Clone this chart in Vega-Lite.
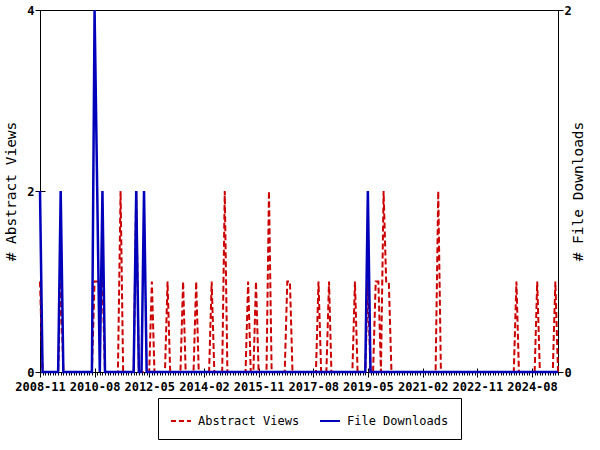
{
  "$schema": "https://vega.github.io/schema/vega-lite/v6.json",
  "width": 518,
  "height": 362,
  "autosize": {"type": "none"},
  "padding": {"left": 40, "top": 10, "right": 42, "bottom": 78},
  "config": {
    "font": "DejaVu Sans Mono",
    "view": {"stroke": "black", "strokeWidth": 1},
    "axis": {"labelColor": "black", "tickColor": "black", "domainColor": "black", "titleColor": "black", "grid": false, "labelFontWeight": "bold", "labelFontSize": 12, "titleFontWeight": "normal", "titleFontSize": 14.5, "labelFont": "DejaVu Sans Mono", "titleFont": "DejaVu Sans Mono"}
  },
  "data": {
    "format": {"parse": {"m": "date:'%Y-%m'"}},
    "values": [
      {"m":"2008-11","v":1,"d":1},{"m":"2008-12","v":0,"d":0},
      {"m":"2009-01","v":0,"d":0},{"m":"2009-02","v":0,"d":0},{"m":"2009-03","v":0,"d":0},{"m":"2009-04","v":0,"d":0},{"m":"2009-05","v":0,"d":0},{"m":"2009-06","v":0,"d":0},{"m":"2009-07","v":1,"d":1},{"m":"2009-08","v":0,"d":0},{"m":"2009-09","v":0,"d":0},{"m":"2009-10","v":0,"d":0},{"m":"2009-11","v":0,"d":0},{"m":"2009-12","v":0,"d":0},
      {"m":"2010-01","v":0,"d":0},{"m":"2010-02","v":0,"d":0},{"m":"2010-03","v":0,"d":0},{"m":"2010-04","v":0,"d":0},{"m":"2010-05","v":0,"d":0},{"m":"2010-06","v":0,"d":0},{"m":"2010-07","v":0,"d":0},{"m":"2010-08","v":1,"d":2},{"m":"2010-09","v":1,"d":1},{"m":"2010-10","v":1,"d":0},{"m":"2010-11","v":1,"d":1},{"m":"2010-12","v":0,"d":0},
      {"m":"2011-01","v":0,"d":0},{"m":"2011-02","v":0,"d":0},{"m":"2011-03","v":0,"d":0},{"m":"2011-04","v":0,"d":0},{"m":"2011-05","v":0,"d":0},{"m":"2011-06","v":2,"d":0},{"m":"2011-07","v":0,"d":0},{"m":"2011-08","v":0,"d":0},{"m":"2011-09","v":0,"d":0},{"m":"2011-10","v":0,"d":0},{"m":"2011-11","v":0,"d":0},{"m":"2011-12","v":2,"d":1},
      {"m":"2012-01","v":0,"d":0},{"m":"2012-02","v":0,"d":0},{"m":"2012-03","v":0,"d":1},{"m":"2012-04","v":0,"d":0},{"m":"2012-05","v":0,"d":0},{"m":"2012-06","v":1,"d":0},{"m":"2012-07","v":0,"d":0},{"m":"2012-08","v":0,"d":0},{"m":"2012-09","v":0,"d":0},{"m":"2012-10","v":0,"d":0},{"m":"2012-11","v":0,"d":0},{"m":"2012-12","v":1,"d":0},
      {"m":"2013-01","v":0,"d":0},{"m":"2013-02","v":0,"d":0},{"m":"2013-03","v":0,"d":0},{"m":"2013-04","v":0,"d":0},{"m":"2013-05","v":0,"d":0},{"m":"2013-06","v":1,"d":0},{"m":"2013-07","v":0,"d":0},{"m":"2013-08","v":0,"d":0},{"m":"2013-09","v":0,"d":0},{"m":"2013-10","v":0,"d":0},{"m":"2013-11","v":1,"d":0},{"m":"2013-12","v":0,"d":0},
      {"m":"2014-01","v":0,"d":0},{"m":"2014-02","v":0,"d":0},{"m":"2014-03","v":0,"d":0},{"m":"2014-04","v":0,"d":0},{"m":"2014-05","v":1,"d":0},{"m":"2014-06","v":0,"d":0},{"m":"2014-07","v":0,"d":0},{"m":"2014-08","v":0,"d":0},{"m":"2014-09","v":0,"d":0},{"m":"2014-10","v":2,"d":0},{"m":"2014-11","v":0,"d":0},{"m":"2014-12","v":0,"d":0},
      {"m":"2015-01","v":0,"d":0},{"m":"2015-02","v":0,"d":0},{"m":"2015-03","v":0,"d":0},{"m":"2015-04","v":0,"d":0},{"m":"2015-05","v":0,"d":0},{"m":"2015-06","v":0,"d":0},{"m":"2015-07","v":1,"d":0},{"m":"2015-08","v":0,"d":0},{"m":"2015-09","v":0,"d":0},{"m":"2015-10","v":1,"d":0},{"m":"2015-11","v":0,"d":0},{"m":"2015-12","v":0,"d":0},
      {"m":"2016-01","v":0,"d":0},{"m":"2016-02","v":0,"d":0},{"m":"2016-03","v":2,"d":0},{"m":"2016-04","v":0,"d":0},{"m":"2016-05","v":0,"d":0},{"m":"2016-06","v":0,"d":0},{"m":"2016-07","v":0,"d":0},{"m":"2016-08","v":0,"d":0},{"m":"2016-09","v":0,"d":0},{"m":"2016-10","v":1,"d":0},{"m":"2016-11","v":1,"d":0},{"m":"2016-12","v":0,"d":0},
      {"m":"2017-01","v":0,"d":0},{"m":"2017-02","v":0,"d":0},{"m":"2017-03","v":0,"d":0},{"m":"2017-04","v":0,"d":0},{"m":"2017-05","v":0,"d":0},{"m":"2017-06","v":0,"d":0},{"m":"2017-07","v":0,"d":0},{"m":"2017-08","v":0,"d":0},{"m":"2017-09","v":0,"d":0},{"m":"2017-10","v":1,"d":0},{"m":"2017-11","v":0,"d":0},{"m":"2017-12","v":0,"d":0},
      {"m":"2018-01","v":0,"d":0},{"m":"2018-02","v":1,"d":0},{"m":"2018-03","v":0,"d":0},{"m":"2018-04","v":0,"d":0},{"m":"2018-05","v":0,"d":0},{"m":"2018-06","v":0,"d":0},{"m":"2018-07","v":0,"d":0},{"m":"2018-08","v":0,"d":0},{"m":"2018-09","v":0,"d":0},{"m":"2018-10","v":0,"d":0},{"m":"2018-11","v":0,"d":0},{"m":"2018-12","v":1,"d":0},
      {"m":"2019-01","v":0,"d":0},{"m":"2019-02","v":0,"d":0},{"m":"2019-03","v":0,"d":0},{"m":"2019-04","v":0,"d":0},{"m":"2019-05","v":1,"d":1},{"m":"2019-06","v":0,"d":0},{"m":"2019-07","v":0,"d":0},{"m":"2019-08","v":1,"d":0},{"m":"2019-09","v":1,"d":0},{"m":"2019-10","v":0,"d":0},{"m":"2019-11","v":2,"d":0},{"m":"2019-12","v":1,"d":0},
      {"m":"2020-01","v":1,"d":0},{"m":"2020-02","v":0,"d":0},{"m":"2020-03","v":0,"d":0},{"m":"2020-04","v":0,"d":0},{"m":"2020-05","v":0,"d":0},{"m":"2020-06","v":0,"d":0},{"m":"2020-07","v":0,"d":0},{"m":"2020-08","v":0,"d":0},{"m":"2020-09","v":0,"d":0},{"m":"2020-10","v":0,"d":0},{"m":"2020-11","v":0,"d":0},{"m":"2020-12","v":0,"d":0},
      {"m":"2021-01","v":0,"d":0},{"m":"2021-02","v":0,"d":0},{"m":"2021-03","v":0,"d":0},{"m":"2021-04","v":0,"d":0},{"m":"2021-05","v":0,"d":0},{"m":"2021-06","v":0,"d":0},{"m":"2021-07","v":0,"d":0},{"m":"2021-08","v":2,"d":0},{"m":"2021-09","v":0,"d":0},{"m":"2021-10","v":0,"d":0},{"m":"2021-11","v":0,"d":0},{"m":"2021-12","v":0,"d":0},
      {"m":"2022-01","v":0,"d":0},{"m":"2022-02","v":0,"d":0},{"m":"2022-03","v":0,"d":0},{"m":"2022-04","v":0,"d":0},{"m":"2022-05","v":0,"d":0},{"m":"2022-06","v":0,"d":0},{"m":"2022-07","v":0,"d":0},{"m":"2022-08","v":0,"d":0},{"m":"2022-09","v":0,"d":0},{"m":"2022-10","v":0,"d":0},{"m":"2022-11","v":0,"d":0},{"m":"2022-12","v":0,"d":0},
      {"m":"2023-01","v":0,"d":0},{"m":"2023-02","v":0,"d":0},{"m":"2023-03","v":0,"d":0},{"m":"2023-04","v":0,"d":0},{"m":"2023-05","v":0,"d":0},{"m":"2023-06","v":0,"d":0},{"m":"2023-07","v":0,"d":0},{"m":"2023-08","v":0,"d":0},{"m":"2023-09","v":0,"d":0},{"m":"2023-10","v":0,"d":0},{"m":"2023-11","v":0,"d":0},{"m":"2023-12","v":0,"d":0},
      {"m":"2024-01","v":0,"d":0},{"m":"2024-02","v":1,"d":0},{"m":"2024-03","v":0,"d":0},{"m":"2024-04","v":0,"d":0},{"m":"2024-05","v":0,"d":0},{"m":"2024-06","v":0,"d":0},{"m":"2024-07","v":0,"d":0},{"m":"2024-08","v":0,"d":0},{"m":"2024-09","v":0,"d":0},{"m":"2024-10","v":1,"d":0},{"m":"2024-11","v":0,"d":0},{"m":"2024-12","v":0,"d":0},
      {"m":"2025-01","v":0,"d":0},{"m":"2025-02","v":0,"d":0},{"m":"2025-03","v":0,"d":0},{"m":"2025-04","v":0,"d":0},{"m":"2025-05","v":1,"d":0},{"m":"2025-06","v":0,"d":0}
    ]
  },
  "layer": [
    {
      "mark": {"type": "line", "strokeDash": [6, 3], "strokeWidth": 2},
      "encoding": {
        "x": {
          "field": "m", "type": "temporal",
          "scale": {"domain": [{"year": 2008, "month": 11, "date": 1}, {"year": 2025, "month": 6, "date": 1}]},
          "axis": {
            "title": null, "domain": false, "format": "%Y-%m", "orient": "bottom", "offset": -4, "tickSize": 9, "labelPadding": 4,
            "values": [
              {"year": 2008, "month": 11, "date": 1}, {"year": 2010, "month": 8, "date": 1}, {"year": 2012, "month": 5, "date": 1},
              {"year": 2014, "month": 2, "date": 1}, {"year": 2015, "month": 11, "date": 1}, {"year": 2017, "month": 8, "date": 1},
              {"year": 2019, "month": 5, "date": 1}, {"year": 2021, "month": 2, "date": 1}, {"year": 2022, "month": 11, "date": 1},
              {"year": 2024, "month": 8, "date": 1}
            ],
            "labelOverlap": false, "labelFlush": false
          }
        },
        "y": {
          "field": "v", "type": "quantitative",
          "scale": {"domain": [0, 4], "nice": false},
          "axis": {"title": "# Abstract Views", "values": [0, 2, 4], "domain": false, "offset": -5, "tickSize": 10, "labelPadding": 1, "titlePadding": 8}
        },
        "color": {
          "datum": "Abstract Views", "type": "nominal",
          "scale": {"domain": ["Abstract Views", "File Downloads"], "range": ["#cc0000", "#0000bb"]},
          "legend": {
            "title": null, "orient": "none", "legendX": 118, "legendY": 388, "direction": "horizontal",
            "strokeColor": "black", "padding": 12, "symbolType": "stroke", "symbolSize": 400, "symbolStrokeWidth": 2,
            "labelFontSize": 12, "labelFont": "DejaVu Sans Mono", "labelColor": "black", "labelOffset": 6, "columnPadding": 16,
            "encode": {"symbols": {"update": {"strokeDash": {"signal": "datum.value === 'Abstract Views' ? [5, 3] : [1, 0]"}}}}
          }
        }
      }
    },
    {
      "mark": {"type": "line", "strokeWidth": 2.5},
      "encoding": {
        "x": {
          "field": "m", "type": "temporal",
          "axis": {"title": null, "domain": false, "labels": false, "orient": "bottom", "tickSize": 3, "tickCount": {"interval": "month", "step": 1}}
        },
        "y": {
          "field": "d", "type": "quantitative",
          "scale": {"domain": [0, 2], "nice": false},
          "axis": {"title": "# File Downloads", "orient": "right", "values": [0, 2], "domain": true, "tickSize": 5, "labelPadding": 1, "titleAngle": 270, "titlePadding": 14}
        },
        "color": {"datum": "File Downloads", "type": "nominal"}
      }
    }
  ],
  "resolve": {"scale": {"y": "independent"}, "axis": {"x": "independent", "y": "independent"}}
}
